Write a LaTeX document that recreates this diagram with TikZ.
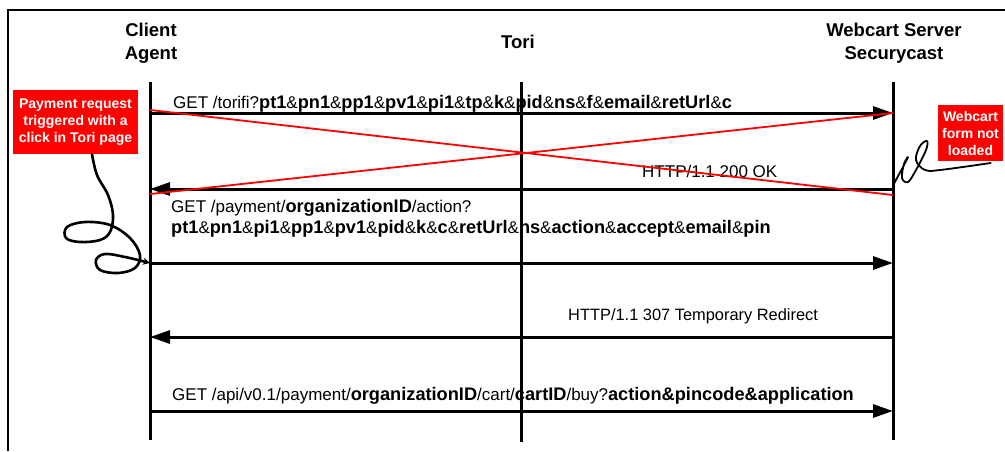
\documentclass[tikz,border=0pt]{standalone}
\usepackage{fontspec}
\setmainfont{Liberation Sans}
\usetikzlibrary{arrows.meta}
\newcommand{\kw}[1]{{\fontsize{18.2}{20.5}\selectfont\bfseries #1}}

\begin{document}
\begin{tikzpicture}[x=1pt, y=-1pt, >={Triangle[length=20pt,width=13pt]},
    actor/.style={font=\fontsize{18.5}{23}\selectfont\bfseries, align=center, inner sep=0},
    lifeline/.style={line width=3pt},
    msg/.style={->, line width=3pt},
    lbl/.style={font=\fontsize{17}{20.5}\selectfont, anchor=base west, inner sep=0, align=left},
    note/.style={fill=red, text=white, font=\fontsize{14}{17}\selectfont\bfseries,
                 align=center, inner sep=0},
    cross/.style={red, line width=1.8pt},
    scribble/.style={line width=2.6pt, line cap=round, line join=round}]
    \useasboundingbox (0,0) rectangle (1005,451);
    \draw[line width=1.2pt] (8,451) -- (8,10) -- (1005,10);

    % actors
    \node[actor] (client) at (151,43) {Client\\Agent};
    \node[actor] (tori) at (518,42) {Tori};
    \node[actor] (webcart) at (894,43) {Webcart Server\\Securycast};

    \coordinate (caTop) at (150,82);  \coordinate (caBot) at (150,440);
    \coordinate (toTop) at (521,82);  \coordinate (toBot) at (521,442);
    \coordinate (wsTop) at (893,82);  \coordinate (wsBot) at (893,440);
    \draw[lifeline] (caTop) -- (caBot);
    \draw[lifeline] (toTop) -- (toBot);
    \draw[lifeline] (wsTop) -- (wsBot);

    \foreach \i/\y in {1/113, 2/189, 3/263, 4/337, 5/411} {
        \coordinate (ca\i) at (150,\y);
        \coordinate (ws\i) at (893,\y);
    }

    % messages
    \draw[msg] (ca1) -- (ws1);
    \node[lbl] (get1) at (173,108) {GET /torifi?\kw{pt1}\&\kw{pn1}\&\kw{pp1}\&\kw{pv1}\&\kw{pi1}\&\kw{tp}\&\kw{k}\&\kw{pid}\&\kw{ns}\&\kw{f}\&\kw{email}\&\kw{retUrl}\&\kw{c}};
    \draw[msg] (ws2) -- (ca2);
    \node[lbl] (ok) at (642,177) {HTTP/1.1 200 OK};
    \draw[msg] (ca3) -- (ws3);
    \node[lbl] (get2) at (171,233) {GET /payment/\kw{organizationID}/action?\\
        \kw{pt1}\&\kw{pn1}\&\kw{pi1}\&\kw{pp1}\&\kw{pv1}\&\kw{pid}\&\kw{k}\&\kw{c}\&\kw{retUrl}\&\kw{ns}\&\kw{action}\&\kw{accept}\&\kw{email}\&\kw{pin}};
    \draw[msg] (ws4) -- (ca4);
    \node[lbl, font=\fontsize{16.4}{20}\selectfont] (redir) at (568,320) {HTTP/1.1 307 Temporary Redirect};
    \draw[msg] (ca5) -- (ws5);
    \node[lbl] (get3) at (172,400) {GET /api/v0.1/payment/\kw{organizationID}/cart/\kw{cartID}/buy?\kw{action\&pincode\&application}};

    % crossed out exchange
    \coordinate (xa) at (150,110); \coordinate (xb) at (893,195);
    \coordinate (xc) at (150,194); \coordinate (xd) at (893,113);
    \draw[cross] (xa) -- (xb);
    \draw[cross] (xc) -- (xd);

    % notes
    \node[note, minimum width=125pt, minimum height=64pt] (pay) at (75.5,122)
        {Payment request\\triggered with a\\click in Tori page};
    \node[note, minimum width=65pt, minimum height=56pt] (form) at (970.5,133)
        {Webcart\\form not\\loaded};
    \draw[scribble, -{Stealth[length=7pt,width=7pt]}] plot[smooth, tension=0.6] coordinates {
        ([xshift=16.5pt]pay.south) (97,175) (108,195) (113,215) (110,232) (100,240)
        (80,242) (66,238) (67,227) (85,222) (110,225) (130,238) (140,255) (135,268)
        (118,273) (100,270) (96,260) (105,254) (125,257) (ca3)};
    \draw[scribble, line width=1.8pt] plot[smooth, tension=0.6] coordinates {
        ([xshift=-12.5pt]form.south east |- 0,163) (940,170) (925,170) (916,160)
        (920,146) (927,141) (926,150) (916,170) (908,182) (902,178) (904,164)
        (908,157) (903,167) (897,178) (893,186)};
\end{tikzpicture}
\end{document}
